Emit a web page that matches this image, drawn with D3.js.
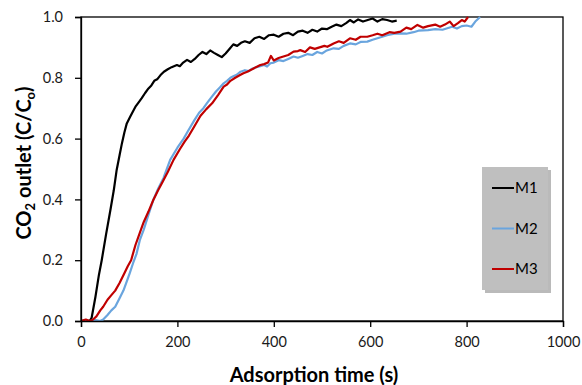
<!DOCTYPE html>
<html><head><meta charset="utf-8">
<script src="https://cdn.jsdelivr.net/npm/d3@7"></script>
<style>body{margin:0;background:#fff}svg{display:block}text{font-family:Lato,"Open Sans",sans-serif}</style>
</head><body><svg id="c" width="582" height="385"></svg>
<script>
const seriesNames = ["M1","M2","M3"];
const seriesColors = ["#000000","#6aa5de","#c00000"];
const xTicks = [0,200,400,600,800,1000];
const yTicks = [0,0.2,0.4,0.6,0.8,1.0];
const m1 = [[0,0],[10,0.002],[18,0],[22,0.01],[30,0.08],[37,0.15],[43,0.2],[52,0.285],[61,0.365],[68,0.43],[74,0.497],[80,0.545],[85,0.585],[90,0.62],[95,0.65],[102,0.672],[108,0.69],[113,0.705],[120,0.72],[126,0.733],[133,0.75],[140,0.765],[146,0.775],[152,0.79],[158,0.795],[165,0.809],[172,0.82],[180,0.828],[188,0.835],[199,0.842],[205,0.838],[212,0.85],[220,0.859],[228,0.852],[236,0.862],[244,0.875],[252,0.885],[260,0.878],[268,0.89],[276,0.882],[284,0.875],[292,0.868],[300,0.88],[308,0.895],[316,0.91],[324,0.905],[332,0.915],[340,0.92],[350,0.915],[360,0.93],[370,0.935],[380,0.928],[390,0.94],[400,0.942],[410,0.935],[420,0.945],[430,0.948],[440,0.94],[450,0.952],[460,0.955],[470,0.948],[480,0.958],[490,0.952],[500,0.962],[510,0.96],[520,0.968],[530,0.975],[540,0.97],[550,0.98],[558,0.99],[566,0.982],[575,0.992],[585,0.985],[595,0.99],[605,0.995],[615,0.985],[625,0.993],[635,0.99],[645,0.985],[655,0.988]];
const m2 = [[0,0],[20,0],[30,0.003],[40,0],[46,0.005],[55,0.02],[63,0.035],[71,0.047],[80,0.075],[88,0.1],[95,0.13],[101,0.157],[108,0.19],[115,0.22],[122,0.266],[130,0.3],[140,0.35],[150,0.398],[160,0.435],[171,0.47],[185,0.53],[200,0.57],[213,0.6],[222,0.625],[235,0.66],[245,0.685],[254,0.7],[261,0.716],[270,0.735],[280,0.755],[288,0.768],[296,0.782],[303,0.79],[310,0.8],[316,0.805],[323,0.81],[331,0.82],[340,0.825],[348,0.822],[355,0.83],[364,0.835],[372,0.838],[380,0.842],[386,0.837],[393,0.848],[400,0.85],[410,0.858],[420,0.855],[430,0.862],[441,0.87],[450,0.866],[460,0.872],[470,0.878],[480,0.875],[490,0.885],[500,0.88],[510,0.89],[524,0.897],[535,0.895],[545,0.905],[558,0.913],[570,0.91],[580,0.918],[594,0.919],[605,0.925],[615,0.93],[625,0.935],[635,0.94],[650,0.945],[663,0.946],[675,0.945],[690,0.95],[700,0.955],[720,0.957],[735,0.96],[750,0.958],[770,0.968],[780,0.962],[790,0.97],[800,0.972],[810,0.968],[818,0.985],[828,1.0]];
const m3 = [[0,0],[10,0.005],[18,0],[25,0.005],[32,0.015],[40,0.035],[46,0.047],[55,0.07],[63,0.085],[71,0.1],[80,0.125],[90,0.157],[97,0.18],[104,0.2],[113,0.25],[122,0.29],[130,0.325],[140,0.36],[150,0.398],[160,0.43],[170,0.46],[180,0.49],[192,0.53],[205,0.565],[215,0.59],[224,0.61],[235,0.64],[248,0.675],[260,0.697],[272,0.716],[285,0.745],[296,0.771],[303,0.778],[310,0.79],[320,0.8],[330,0.809],[337,0.815],[345,0.82],[355,0.828],[363,0.835],[372,0.842],[380,0.845],[388,0.85],[394,0.872],[400,0.857],[410,0.865],[420,0.87],[430,0.875],[441,0.886],[450,0.888],[455,0.891],[465,0.885],[475,0.9],[485,0.895],[495,0.9],[505,0.905],[511,0.902],[524,0.913],[535,0.92],[545,0.915],[558,0.93],[570,0.925],[580,0.935],[594,0.935],[605,0.94],[615,0.945],[625,0.94],[640,0.95],[650,0.948],[663,0.952],[675,0.965],[685,0.96],[698,0.974],[710,0.965],[720,0.97],[735,0.975],[745,0.968],[755,0.975],[765,0.985],[773,0.97],[782,0.98],[790,0.99],[796,0.985],[803,1.0]];
const seriesData = [m1,m2,m3];

const svg = d3.select("#c");
const L=81,R=563,T=17,B=321;
const x = d3.scaleLinear().domain([0,1000]).range([L,R]);
const y = d3.scaleLinear().domain([0,1]).range([B,T]);

svg.append("rect").attr("x",L).attr("y",T).attr("width",R-L).attr("height",B-T)
  .attr("fill","none").attr("stroke","#000").attr("stroke-width",1.3);

const line = d3.line().x(d=>x(d[0])).y(d=>y(d[1]));
seriesData.forEach((s,i)=>{
  svg.append("path").datum(s).attr("d",line).attr("fill","none")
    .attr("stroke",seriesColors[i]).attr("stroke-width",2.2).attr("stroke-linejoin","round");
});

const xa = svg.append("g").attr("transform",`translate(0,${B})`)
  .call(d3.axisBottom(x).tickValues(xTicks).tickSize(6).tickPadding(10).tickFormat(d3.format("d")));
const ya = svg.append("g").attr("transform",`translate(${L},0)`)
  .call(d3.axisLeft(y).tickValues(yTicks).tickSize(6).tickPadding(12).tickFormat(d3.format(".1f")));
[xa,ya].forEach(a=>{
  a.select(".domain").attr("stroke","#000").attr("stroke-width",1.3);
  a.selectAll(".tick line").attr("stroke","#000").attr("stroke-width",1.3);
  a.selectAll("text").attr("font-size",14.5).attr("fill","#1a1a1a").style("font-family","Lato,'Open Sans',sans-serif");
});

svg.append("text").attr("x",314).attr("y",382).attr("text-anchor","middle")
  .attr("font-size",20).attr("font-weight","bold").attr("fill","#000").text("Adsorption time (s)");
const yt = svg.append("text").attr("transform","translate(31,163) rotate(-90)").attr("text-anchor","middle")
  .attr("font-size",20).attr("font-weight","bold").attr("fill","#000");
yt.append("tspan").text("CO");
yt.append("tspan").attr("font-size",13).attr("dy",4).text("2");
yt.append("tspan").attr("dy",-4).text(" outlet (C/C");
yt.append("tspan").attr("font-size",13).attr("dy",4).text("o");
yt.append("tspan").attr("dy",-4).text(")");

const lg = svg.append("g");
lg.append("rect").attr("x",485).attr("y",170).attr("width",66).attr("height",123).attr("fill","#8c8c8c").attr("opacity",0.6);
lg.append("rect").attr("x",482).attr("y",167).attr("width",66).attr("height",123).attr("fill","#bfbfbf");
const ly = d3.scalePoint().domain(seriesNames).range([188,269]);
seriesNames.forEach((n,i)=>{
  lg.append("line").attr("x1",492).attr("x2",514).attr("y1",ly(n)).attr("y2",ly(n))
    .attr("stroke",seriesColors[i]).attr("stroke-width",2);
  lg.append("text").attr("x",515).attr("y",ly(n)).attr("dy","0.35em").attr("font-size",15).attr("fill","#000").text(n);
});
</script></body></html>
